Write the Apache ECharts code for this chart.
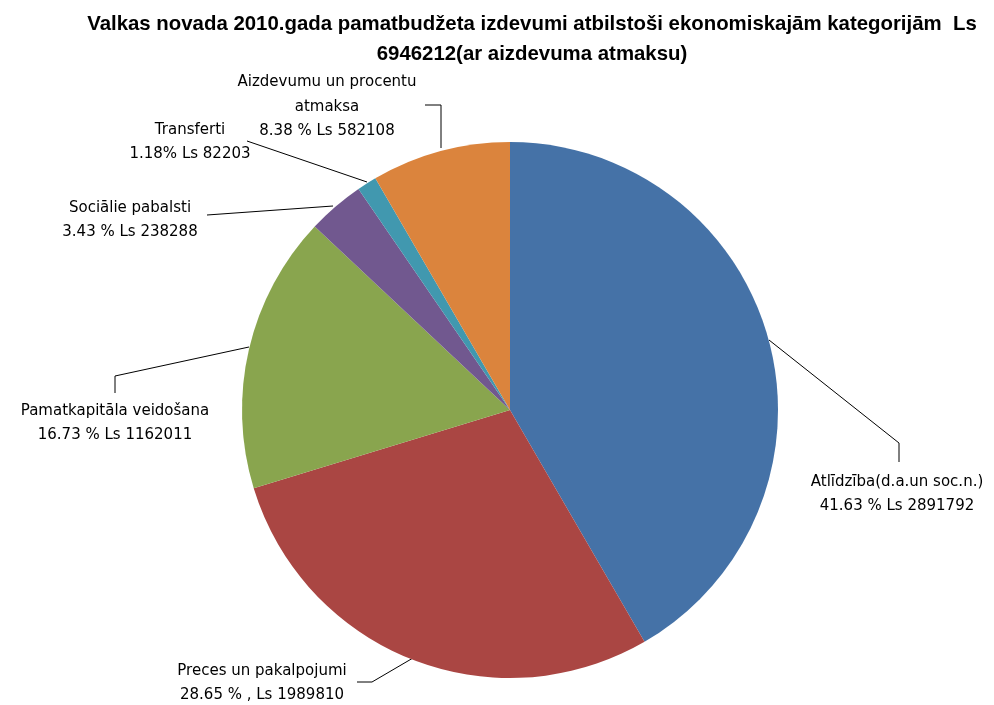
<!DOCTYPE html>
<html><head><meta charset="utf-8">
<script src="https://cdn.jsdelivr.net/npm/echarts@6/dist/echarts.min.js"></script>
<style>html,body{margin:0;padding:0;background:#fff}#c{width:994px;height:705px}</style>
</head><body><div id="c"></div>
<script>
const categories = ["Atlīdzība(d.a.un soc.n.)", "Preces un pakalpojumi", "Pamatkapitāla veidošana", "Sociālie pabalsti", "Transferti", "Aizdevumu un procentu atmaksa"];
const values = [2891792, 1989810, 1162011, 238288, 82203, 582108];
const labelTexts = [
  "Atlīdzība(d.a.un soc.n.)\n41.63 % Ls 2891792",
  "Preces un pakalpojumi\n28.65 % , Ls 1989810",
  "Pamatkapitāla veidošana\n16.73 % Ls 1162011",
  "Sociālie pabalsti\n3.43 % Ls 238288",
  "Transferti\n1.18% Ls 82203",
  "Aizdevumu un procentu\natmaksa\n8.38 % Ls 582108"
];
const colors = ["#4572A7", "#AA4643", "#89A54E", "#71588F", "#4198AF", "#DB843D"];
const titleText = "Valkas novada 2010.gada pamatbudžeta izdevumi atbilstoši ekonomiskajām kategorijām  Ls\n6946212(ar aizdevuma atmaksu)";

// label placement (layout only)
const labelPos = [
  {x: 897, y: 494, line: [[769, 340], [899, 443], [899, 462]]},
  {x: 262, y: 683, line: [[413, 658], [372, 682], [357, 682]]},
  {x: 115, y: 423, line: [[249, 347], [115, 376], [115, 393]]},
  {x: 130, y: 220, line: [[333, 206], [207, 215], [207, 215]]},
  {x: 190, y: 142, line: [[367, 182], [247, 141], [247, 141]]},
  {x: 327, y: 107, line: [[441, 148], [441, 105], [425, 105]]}
];

const chart = echarts.init(document.getElementById('c'));
chart.setOption({
  animation: false,
  title: {
    text: titleText,
    left: 527, top: 4, textAlign: 'center',
    textStyle: {fontFamily: 'Liberation Sans', fontWeight: 'bold', fontSize: 20.4, lineHeight: 30, color: '#000'}
  },
  series: [{
    type: 'pie',
    center: [510, 410],
    radius: 268,
    startAngle: 90,
    clockwise: true,
    data: categories.map((c, i) => ({name: c, value: values[i], itemStyle: {color: colors[i]}, label: {formatter: labelTexts[i]}})),
    itemStyle: {borderWidth: 0},
    label: {
      show: true, color: '#000', fontFamily: 'DejaVu Sans', fontSize: 15, lineHeight: 24.5, align: 'center',
      overflow: 'none', width: 260
    },
    labelLine: {show: true, lineStyle: {color: '#000', width: 1}, smooth: false},
    labelLayout: function (p) {
      const L = labelPos[p.dataIndex];
      return {x: L.x, y: L.y, align: 'center', verticalAlign: 'middle', labelLinePoints: L.line};
    },
    emphasis: {disabled: true}
  }]
});
</script></body></html>
